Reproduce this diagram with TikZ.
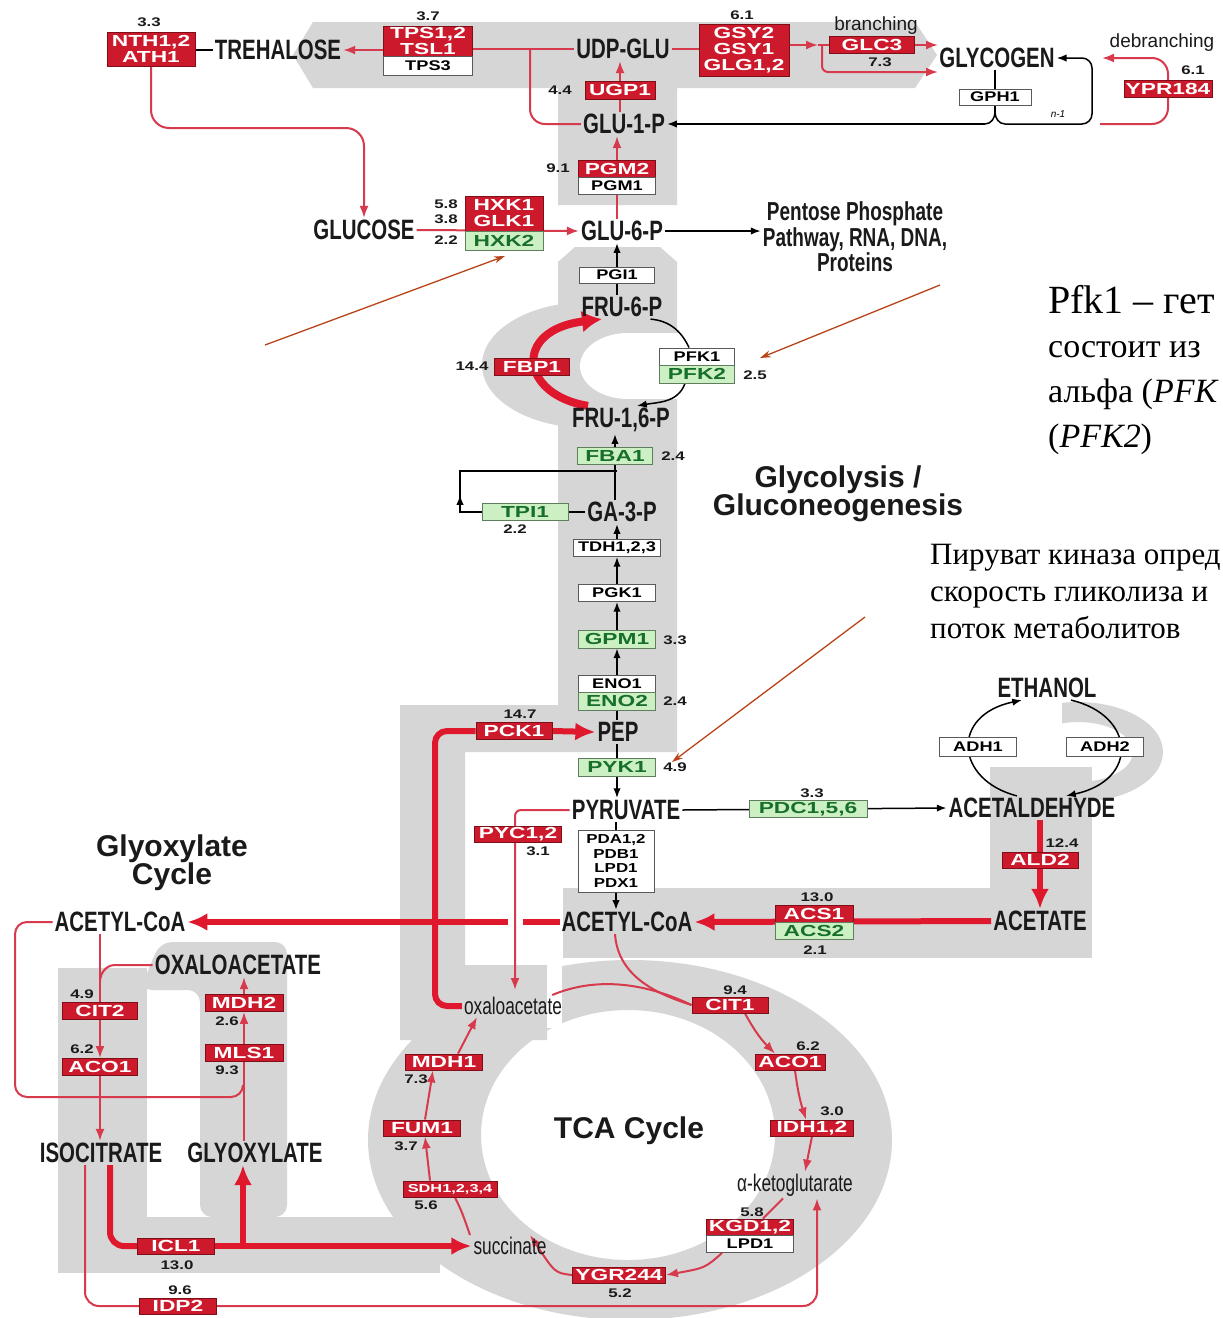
\documentclass[tikz,border=0pt]{standalone}
\usepackage{fontspec}
\usetikzlibrary{arrows.meta}
\setmainfont{Liberation Sans}
\newfontfamily\metabfont[FakeStretch=0.73]{Liberation Sans Bold}
\newfontfamily\tcafont[FakeStretch=0.72]{Liberation Sans}
\newfontfamily\enzfont[FakeStretch=1.42]{Liberation Sans Bold}
\newfontfamily\wenzfont[FakeStretch=1.3]{Liberation Sans Bold}
\newfontfamily\numfont[FakeStretch=1.35]{Liberation Sans Bold}
\newfontfamily\headfont{Liberation Sans Bold}
\newfontfamily\notefont{Liberation Serif}
\newfontfamily\smallfont{Liberation Sans}

\definecolor{bandgray}{HTML}{D6D6D6}
\definecolor{enzred}{HTML}{CC1A2C}
\definecolor{enzredD}{HTML}{7E0E18}
\definecolor{pathred}{HTML}{D63A4C}
\definecolor{thickred}{HTML}{E0182E}
\definecolor{enzgreen}{HTML}{CDEFC4}
\definecolor{enzgreenT}{HTML}{17702A}
\definecolor{enzgreenD}{HTML}{5E7E5E}
\definecolor{notered}{HTML}{B8441A}
\definecolor{inkblack}{HTML}{1A1A1A}

\pgfdeclarelayer{bands}
\pgfdeclarelayer{links}
\pgfsetlayers{bands,links,main}

\begin{document}
\begin{tikzpicture}[x=1pt,y=-1pt,
  metlbl/.style={font=\metabfont\fontsize{28}{30}\selectfont, text=inkblack, inner sep=2pt},
  tcalbl/.style={font=\tcafont\fontsize{24}{26}\selectfont, text=inkblack, inner sep=2pt},
  numlbl/.style={font=\numfont\fontsize{12.5}{13}\selectfont, text=inkblack, inner sep=0pt},
  smalllbl/.style={font=\smallfont\fontsize{19}{20}\selectfont, text=inkblack, inner sep=0pt},
  ebox/.style={minimum height=17, inner sep=0pt, line width=0.9pt, align=center},
  redbox/.style={ebox, fill=enzred, draw=enzredD, text=white, font=\enzfont\fontsize{16}{16}\selectfont},
  greenbox/.style={ebox, fill=enzgreen, draw=enzgreenD, text=enzgreenT, font=\enzfont\fontsize{16}{16}\selectfont},
  whitebox/.style={ebox, fill=white, draw=black!65, text=black, font=\wenzfont\fontsize{14}{15}\selectfont},
  titlelbl/.style={font=\headfont\fontsize{30}{28}\selectfont, align=center, text=inkblack, inner sep=0pt},
  notelbl/.style={font=\notefont\fontsize{34}{40}\selectfont, anchor=base west, inner sep=0pt},
  notelbl2/.style={font=\notefont\fontsize{31}{34}\selectfont, anchor=base west, inner sep=0pt},
  blkline/.style={draw=black, line width=1.5pt},
  redline/.style={draw=pathred, line width=2pt},
  redthick/.style={draw=thickred, line width=6pt},
  arr/.style={-{Latex}},
  bigarr/.style={-{Latex[length=20pt,width=18pt]}},
  pointer/.style={draw=notered, line width=1.3pt, -{Stealth[length=11pt,width=7pt]}}
]
\useasboundingbox (0,0) rectangle (1223,1318);

% ---------- grey pathway bands ----------
\begin{pgfonlayer}{bands}
\fill[white] (0,0) rectangle (1223,1318);
% glycogen / trehalose band and GLU-1-P column
\fill[bandgray] (293,55) -- (313,22) -- (915,22) -- (937,55) -- (915,88) -- (677,88)
  -- (677,205) -- (558,205) -- (558,88) -- (313,88) -- cycle;
% glycolysis column with the PEP branch to the TCA cycle
\fill[bandgray] (558,262) -- (575,247) -- (660,247) -- (677,262) -- (677,752) -- (465,752)
  -- (465,965) -- (547,965) -- (547,1040) -- (400,1040) -- (400,705) -- (558,705) -- cycle;
% FBP1 bypass ring
\fill[bandgray] (588,365) ellipse [x radius=106, y radius=63];
\fill[white] (628,366) ellipse [x radius=48, y radius=33];
\fill[white] (628,333) rectangle (700,399);
% ethanol loop, acetaldehyde and acetate bands
\begin{scope}
  \clip (1062,690) rectangle (1180,810);
  \fill[bandgray, even odd rule] (1078,752) ellipse [x radius=85, y radius=50]
    (1078,752) ellipse [x radius=55, y radius=30];
\end{scope}
\fill[bandgray] (990,767) rectangle (1092,958);
\fill[bandgray] (563,888) rectangle (1092,958);
% TCA ring
\fill[bandgray, even odd rule] (630,1140) ellipse [x radius=262, y radius=180]
  (628,1135) ellipse [x radius=147, y radius=125];
\fill[white] (547,958) rectangle (562,1028);
% glyoxylate shunt
\fill[bandgray] (58,968) rectangle (147,1273);
\fill[bandgray] (58,1217) rectangle (440,1273);
\fill[bandgray, rounded corners=12] (140,990) -- (160,942) -- (287,942) -- (287,1217)
  -- (200,1217) -- (200,990) -- cycle;
\end{pgfonlayer}

% ---------- metabolites ----------
\node[metlbl] (treh) at (278,50) {TREHALOSE};
\node[metlbl] (udpglu) at (623,49) {UDP-GLU};
\node[metlbl] (glycogen) at (997,58) {GLYCOGEN};
\node[metlbl] (glu1p) at (624,124) {GLU-1-P};
\node[metlbl] (glucose) at (364,230) {GLUCOSE};
\node[metlbl] (glu6p) at (622,231) {GLU-6-P};
\node[metlbl, align=center, font=\metabfont\fontsize{26}{25.5}\selectfont] (ppp) at (855,237)
  {Pentose Phosphate\\Pathway, RNA, DNA,\\Proteins};
\node[metlbl] (fru6p) at (622,307) {FRU-6-P};
\node[metlbl] (fru16p) at (621,420) {FRU-1,6-P};
\node[metlbl] (ga3p) at (622,512) {GA-3-P};
\node[metlbl] (pep) at (618,732) {PEP};
\node[metlbl] (pyruvate) at (626,810) {PYRUVATE};
\node[metlbl] (acetald) at (1032,808) {ACETALDEHYDE};
\node[metlbl] (ethanol) at (1047,688) {ETHANOL};
\node[metlbl] (acetate) at (1040,921) {ACETATE};
\node[metlbl] (acoa) at (627,922) {ACETYL-CoA};
\node[metlbl] (acoaL) at (120,922) {ACETYL-CoA};
\node[metlbl] (oaa) at (238,965) {OXALOACETATE};
\node[metlbl] (isocit) at (101,1153) {ISOCITRATE};
\node[metlbl] (glyox) at (255,1153) {GLYOXYLATE};
\node[tcalbl] (oxac) at (513,1006) {oxaloacetate};
\node[tcalbl] (akg) at (795,1185) {α-ketoglutarate};
\node[tcalbl] (succ) at (510,1246) {succinate};

% ---------- titles ----------
\node[titlelbl] (glytitle) at (838,494) {Glycolysis /\\Gluconeogenesis};
\node[titlelbl] (gxtitle) at (172,863) {Glyoxylate\\Cycle};
\node[titlelbl] (tcatitle) at (629,1131) {TCA Cycle};

% ---------- enzymes: storage carbohydrates ----------
\node[redbox, minimum width=88, minimum height=34] (nth) at (151,49) {NTH1,2\\ATH1};
\node[numlbl] (v33) at (149,22) {3.3};
\node[redbox, minimum width=89, minimum height=30] (tps) at (428,41) {TPS1,2\\TSL1};
\node[whitebox, minimum width=89, minimum height=19] (tps3) at (428,66) {TPS3};
\node[numlbl] (v37) at (428,16) {3.7};
\node[redbox, minimum width=90, minimum height=52] (gsy) at (744,50) {GSY2\\GSY1\\GLG1,2};
\node[numlbl] (v61a) at (742,15) {6.1};
\node[smalllbl] (branch) at (876,26) {branching};
\node[redbox, minimum width=85] (glc3) at (872,45) {GLC3};
\node[numlbl] (v73) at (880,62) {7.3};
\node[whitebox, minimum width=72, minimum height=16] (gph1) at (995,97) {GPH1};
\node[smalllbl] (debr) at (1162,43) {debranching};
\node[numlbl] (v61b) at (1193,70) {6.1};
\node[redbox, minimum width=88] (ypr) at (1168,89) {YPR184};
\node[font=\smallfont\itshape\fontsize{10}{10}\selectfont, inner sep=0pt] (nminus) at (1058,114) {n-1};
\node[redbox, minimum width=70, minimum height=18] (ugp1) at (620,90) {UGP1};
\node[numlbl] (v44) at (560,90) {4.4};
\node[redbox, minimum width=77] (pgm2) at (617,169) {PGM2};
\node[whitebox, minimum width=77] (pgm1) at (617,186) {PGM1};
\node[numlbl] (v91) at (558,168) {9.1};

% ---------- enzymes: glycolysis ----------
\node[redbox, minimum width=78, minimum height=35] (hxk) at (504,213.5) {HXK1\\GLK1};
\node[greenbox, minimum width=78, minimum height=19] (hxk2) at (504,240.5) {HXK2};
\node[numlbl] (v58) at (446,204) {5.8};
\node[numlbl] (v38) at (446,219) {3.8};
\node[numlbl] (v22a) at (446,240) {2.2};
\node[whitebox, minimum width=75, minimum height=16] (pgi1) at (617,275) {PGI1};
\node[whitebox, minimum width=75] (pfk1) at (697,356.5) {PFK1};
\node[greenbox, minimum width=75, minimum height=18] (pfk2) at (697,374) {PFK2};
\node[numlbl] (v25) at (755,375) {2.5};
\node[redbox, minimum width=75] (fbp1) at (532,367) {FBP1};
\node[numlbl] (v144) at (472,366) {14.4};
\node[greenbox, minimum width=75] (fba1) at (615,456) {FBA1};
\node[numlbl] (v24a) at (673,456) {2.4};
\node[greenbox, minimum width=86] (tpi1) at (525,512) {TPI1};
\node[numlbl] (v22b) at (515,529) {2.2};
\node[whitebox, minimum width=87] (tdh) at (617,548) {TDH1,2,3};
\node[whitebox, minimum width=77] (pgk1) at (617,593) {PGK1};
\node[greenbox, minimum width=77, minimum height=18] (gpm1) at (617,639) {GPM1};
\node[numlbl] (v33b) at (675,640) {3.3};
\node[whitebox, minimum width=77] (eno1) at (617,683.5) {ENO1};
\node[greenbox, minimum width=77, minimum height=18] (eno2) at (617,701) {ENO2};
\node[numlbl] (v24b) at (675,701) {2.4};
\node[redbox, minimum width=76] (pck1) at (514,731) {PCK1};
\node[numlbl] (v147) at (520,714) {14.7};
\node[greenbox, minimum width=77, minimum height=18] (pyk1) at (617,767) {PYK1};
\node[numlbl] (v49a) at (675,767) {4.9};

% ---------- enzymes: fermentation and acetyl-CoA ----------
\node[greenbox, minimum width=118] (pdc) at (808,809) {PDC1,5,6};
\node[numlbl] (v33c) at (812,793) {3.3};
\node[whitebox, minimum width=77, minimum height=19] (adh1) at (978,747) {ADH1};
\node[whitebox, minimum width=77, minimum height=19] (adh2) at (1105,747) {ADH2};
\node[redbox, minimum width=76, minimum height=16] (ald2) at (1040,860) {ALD2};
\node[numlbl] (v124) at (1062,843) {12.4};
\node[redbox, minimum width=78] (acs1) at (814,913.5) {ACS1};
\node[greenbox, minimum width=78] (acs2) at (814,930.5) {ACS2};
\node[numlbl] (v130a) at (817,897) {13.0};
\node[numlbl] (v21) at (815,950) {2.1};
\node[whitebox, minimum width=76, minimum height=62, font=\wenzfont\fontsize{13}{14.5}\selectfont]
  (pda) at (616,861) {PDA1,2\\PDB1\\LPD1\\PDX1};
\node[redbox, minimum width=87, minimum height=16] (pyc) at (518,834) {PYC1,2};
\node[numlbl] (v31) at (538,851) {3.1};

% ---------- enzymes: glyoxylate cycle ----------
\node[redbox, minimum width=75] (cit2) at (100,1011) {CIT2};
\node[numlbl] (v49b) at (82,994) {4.9};
\node[redbox, minimum width=75] (aco1g) at (100,1067) {ACO1};
\node[numlbl] (v62a) at (82,1049) {6.2};
\node[redbox, minimum width=78] (mdh2) at (244,1003) {MDH2};
\node[numlbl] (v26) at (227,1021) {2.6};
\node[redbox, minimum width=78] (mls1) at (244,1053) {MLS1};
\node[numlbl] (v93) at (227,1070) {9.3};
\node[redbox, minimum width=77, minimum height=16] (icl1) at (176,1246) {ICL1};
\node[numlbl] (v130b) at (177,1265) {13.0};
\node[redbox, minimum width=77, minimum height=16] (idp2) at (178,1306) {IDP2};
\node[numlbl] (v96) at (180,1290) {9.6};

% ---------- enzymes: TCA cycle ----------
\node[redbox, minimum width=76, minimum height=16] (cit1) at (730,1005) {CIT1};
\node[numlbl] (v94) at (735,990) {9.4};
\node[redbox, minimum width=70, minimum height=16] (aco1) at (790,1062) {ACO1};
\node[numlbl] (v62b) at (808,1046) {6.2};
\node[redbox, minimum width=83, minimum height=16] (idh) at (812,1128) {IDH1,2};
\node[numlbl] (v30) at (832,1111) {3.0};
\node[redbox, minimum width=87, minimum height=16] (kgd) at (750,1227) {KGD1,2};
\node[whitebox, minimum width=87, minimum height=17] (lpd1) at (750,1244) {LPD1};
\node[numlbl] (v58b) at (752,1212) {5.8};
\node[redbox, minimum width=93, minimum height=16] (ygr) at (619,1275) {YGR244};
\node[numlbl] (v52) at (620,1293) {5.2};
\node[redbox, minimum width=94, minimum height=16, font=\enzfont\fontsize{11.5}{12}\selectfont] (sdh) at (450,1189) {SDH1,2,3,4};
\node[numlbl] (v56) at (426,1205) {5.6};
\node[redbox, minimum width=77, minimum height=16] (fum1) at (422,1128) {FUM1};
\node[numlbl] (v37b) at (406,1146) {3.7};
\node[redbox, minimum width=77, minimum height=16] (mdh1) at (444,1062) {MDH1};
\node[numlbl] (v73b) at (416,1079) {7.3};

% ---------- helper points ----------
\coordinate (tpsdrop) at (530,49);
\coordinate (treturn) at (530,124);
\coordinate (nthbend) at (151,128);
\coordinate (glcbend) at (364,128);
\coordinate (gsyfork) at (822,45);
\coordinate (glcmid) at (818,45);
\coordinate (glyin1) at (938,45);
\coordinate (glyin2) at (938,72);
\coordinate (gphtop) at (995,112);
\coordinate (gphleft) at (985,124);
\coordinate (gphright) at (1005,124);
\coordinate (gphcornerB) at (1092,124);
\coordinate (gphcornerT) at (1092,58);
\coordinate (debrA) at (1100,124);
\coordinate (debrB) at (1168,124);
\coordinate (debrC) at (1168,58);
\coordinate (debrD) at (1102,58);
\coordinate (dhap) at (460,512);
\coordinate (dhapup) at (460,495);
\coordinate (fbasplit) at (460,471);
\coordinate (fbajoin) at (617,471);
\coordinate (pckbendA) at (435,1006);
\coordinate (pckbendB) at (435,731);
\coordinate (pycbend) at (515,810);
\coordinate (pycend) at (515,990);
\coordinate (acgapR) at (523,922);
\coordinate (acgapL) at (508,922);
\coordinate (gxA) at (15,922);
\coordinate (gxB) at (15,1097);
\coordinate (gxC) at (243,1097);
\coordinate (gxD) at (243,1085);
\coordinate (oaabend) at (115,965);
\coordinate (oaajoin) at (100,982);
\coordinate (iclbend) at (110,1246);
\coordinate (iclfork) at (243,1246);
\coordinate (idpA) at (85,1306);
\coordinate (idpB) at (817,1306);

% ---------- connectors ----------
\begin{pgfonlayer}{links}
% trehalose and glycogen
\draw[blkline] (nth.east |- treh) -- (treh.west);
\draw[redline, arr] (tps.west |- treh) -- (treh.east);
\draw[redline] (tps.east |- udpglu) -- (udpglu.west);
\draw[redline, rounded corners=15] (tpsdrop) -- (treturn) -- (glu1p.west);
\draw[redline, arr, rounded corners=18] (nth.south) -- (nthbend) -- (glcbend) -- (glucose.north);
\draw[redline] (udpglu.east) -- (gsy.west |- udpglu);
\draw[redline, arr] (gsy.east |- glc3) -- (glcmid);
\draw[redline] (glcmid) -- (glc3.west);
\draw[redline, arr] (glc3.east) -- (glyin1);
\draw[redline, arr, rounded corners=6] (gsyfork) -- (gsyfork |- glyin2) -- (glyin2);
\draw[blkline] (glycogen.south -| gph1) -- (gph1.north);
\draw[blkline] (gph1.south) -- (gphtop);
\draw[blkline] (gphleft) to[out=0,in=-90] (gphtop) to[out=-90,in=180] (gphright);
\draw[blkline, arr] (gphleft) -- (glu1p.east);
\draw[blkline, arr, rounded corners=10] (gphright) -- (gphcornerB) -- (gphcornerT) -- (glycogen.east);
\draw[redline, arr, rounded corners=16] (debrA) -- (debrB) -- (debrC) -- (debrD);
\draw[redline, arr] (ugp1.north) -- (ugp1.north |- udpglu.south);
\draw[redline] (ugp1.south |- glu1p.north) -- (ugp1.south);
\draw[redline, arr] (pgm2.north) -- (pgm2.north |- glu1p.south);
\draw[redline] (pgm1.south |- glu6p.north) -- (pgm1.south);
% glycolysis
\draw[redline, arr] (glucose.east) -- (glu6p.west);
\draw[blkline, arr] (glu6p.east) -- (ppp.west |- glu6p.east);
\draw[blkline, arr] (pgi1.north) -- (pgi1.north |- glu6p.south);
\draw[blkline] (pgi1.south |- fru6p.north) -- (pgi1.south);
\draw[blkline] ([xshift=-14]fru6p.south east) to[out=-5,in=115] ([xshift=-8]pfk1.north);
\draw[blkline, arr] ([xshift=-12]pfk2.south) to[out=-110,in=10] ([xshift=16]fru16p.north);
\draw[draw=thickred, line width=8pt, -{Latex[length=20pt,width=22pt]}]
  ([xshift=-33]fru16p.north) .. controls (520,395) and (512,330) .. ([xshift=-20]fru6p.south);
\draw[blkline, arr] (fba1.north) -- (fba1.north |- fru16p.south);
\draw[blkline] (fba1.south) -- (fba1.south |- ga3p.north);
\draw[blkline] (tpi1.west) -- (dhap) -- (fbasplit) -- (fbajoin);
\draw[blkline, arr] (dhap) -- (dhapup);
\draw[blkline] (tpi1.east) -- (ga3p.west);
\draw[blkline, arr] (tdh.north) -- (tdh.north |- ga3p.south);
\draw[blkline, arr] (pgk1.north) -- (tdh.south);
\draw[blkline, arr] (gpm1.north) -- (pgk1.south);
\draw[blkline, arr] (eno1.north) -- (gpm1.south);
\draw[blkline] (eno2.south) -- (eno2.south |- pep.north);
\draw[blkline] (pyk1.north |- pep.south) -- (pyk1.north);
\draw[blkline, arr] (pyk1.south) -- (pyk1.south |- pyruvate.north);
\draw[redthick, rounded corners=12] (oxac.west) -- (pckbendA) -- (pckbendB) -- (pck1.west);
\draw[redthick, bigarr] (pck1.east) -- (pep.west);
% fermentation, acetate and acetyl-CoA
\draw[blkline, arr] (pyruvate.east) -- (acetald.west);
\draw[blkline, arr] ([xshift=-15]acetald.north) .. controls (955,780) and (950,715) .. ([xshift=-25]ethanol.south);
\draw[blkline, arr] ([xshift=24]ethanol.south) .. controls (1135,715) and (1140,780) .. ([xshift=34]acetald.north);
\draw[redthick, bigarr] (ald2.north |- acetald.south) -- (ald2.south |- acetate.north);
\draw[redthick, bigarr] (acetate.west) -- (acoa.east);
\draw[blkline] (pyruvate.south -| pda) -- (pda.north);
\draw[blkline, arr] (pda.south) -- (pda.south |- acoa.north);
\draw[redline, arr, rounded corners=6] (pyruvate.west) -- (pycbend) -- (pycend);
\draw[redthick] (acoa.west) -- (acgapR);
\draw[redthick, bigarr] (acgapL) -- (acoaL.east);
% TCA cycle
\draw[redline] ([xshift=-12]acoa.south) .. controls (618,978) and (660,995) .. (cit1.west);
\draw[redline] ([xshift=-12]oxac.north east) .. controls (600,975) and (650,985) .. (cit1.west);
\draw[redline, arr] ([xshift=15]cit1.south) to[bend right=8] ([xshift=-15]aco1.north);
\draw[redline, arr] ([xshift=5]aco1.south) to[bend right=5] ([xshift=-6]idh.north);
\draw[redline, arr] (idh.south) -- ([xshift=10]akg.north);
\draw[redline] ([xshift=-12]akg.south) -- ([xshift=13]kgd.north);
\draw[redline, arr] ([xshift=-28]lpd1.south) .. controls (705,1268) .. (ygr.east);
\draw[redline, arr] (ygr.west) .. controls (555,1273) .. ([xshift=20]succ.north);
\draw[redline] ([xshift=-40]succ.north) .. controls (462,1212) .. ([xshift=5]sdh.south);
\draw[redline, arr] ([xshift=-20]sdh.north) -- ([xshift=3]fum1.south);
\draw[redline, arr] ([xshift=3]fum1.north) -- ([xshift=-11]mdh1.south);
\draw[redline, arr] ([xshift=14]mdh1.north) -- ([xshift=-36]oxac.south);
% glyoxylate cycle
\draw[redline, rounded corners=12] (acoaL.west) -- (gxA) -- (gxB) -- (gxC) -- (gxD);
\draw[redline] (mls1.south |- glyox.north) -- (mls1.south);
\draw[redline, arr] (mls1.north) -- (mdh2.south);
\draw[redline, arr] (mdh2.north) -- (mdh2.north |- oaa.south);
\draw[redline] (acoaL.south -| cit2) -- (cit2.north);
\draw[redline, arr] (cit2.south) -- (aco1g.north);
\draw[redline, arr] (aco1g.south) -- (aco1g.south |- isocit.north);
\draw[redline] (oaa.west) -- (oaabend) to[out=180,in=90] (oaajoin);
\draw[redthick, rounded corners=14] ([xshift=9]isocit.south) -- (iclbend) -- (icl1.west);
\draw[redthick, bigarr] (icl1.east) -- (succ.west);
\draw[redthick, bigarr] (iclfork) -- (iclfork |- glyox.south);
\draw[redline, arr, rounded corners=14] ([xshift=-16]isocit.south) -- (idpA) -- (idpB) -- (idpB |- akg.south);
\end{pgfonlayer}

% ---------- notes ----------
\node[notelbl, font=\notefont\fontsize{40}{44}\selectfont] (pfkA) at (1048,313) {Pfk1 – гет};
\node[notelbl] (pfkB) at (1048,357) {состоит из};
\node[notelbl] (pfkC) at (1048,402) {альфа (\textit{PFK}};
\node[notelbl] (pfkD) at (1048,447) {(\textit{PFK2})};
\node[notelbl2] (pykA) at (930,564) {Пируват киназа опред};
\node[notelbl2] (pykB) at (930,601) {скорость гликолиза и};
\node[notelbl2] (pykC) at (930,638) {поток метаболитов};

\coordinate (ptrA) at (265,345);
\coordinate (ptrAend) at (505,256);
\coordinate (ptrB) at (940,285);
\coordinate (ptrBend) at (760,358);
\coordinate (ptrC) at (865,617);
\coordinate (ptrCend) at (672,762);
\draw[pointer] (ptrA) -- (ptrAend);
\draw[pointer] (ptrB) -- (ptrBend);
\draw[pointer] (ptrC) -- (ptrCend);
\end{tikzpicture}
\end{document}
